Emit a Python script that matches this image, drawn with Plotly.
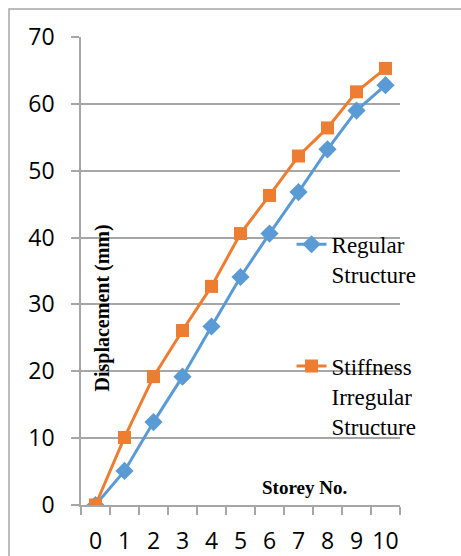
import plotly.graph_objects as go

# Storey numbers and lateral displacement (mm)
storeys = ["0", "1", "2", "3", "4", "5", "6", "7", "8", "9", "10"]
regular = [0, 5.1, 12.4, 19.2, 26.7, 34.1, 40.6, 46.8, 53.2, 59.0, 62.8]
stiffness_irregular = [0, 10.1, 19.2, 26.1, 32.7, 40.6, 46.3, 52.2, 56.4, 61.8, 65.3]

y_ticks = [0, 10, 20, 30, 40, 50, 60, 70]

BLUE = "#5B9BD5"
ORANGE = "#ED7D31"
GRID = "#A6A6A6"
TICK_FONT = dict(family="Open Sans", size=23, color="#000000")
SERIF = "Liberation Serif"

fig = go.Figure()

fig.add_trace(go.Scatter(
    x=storeys, y=regular, mode="lines+markers",
    name="Regular<br>Structure",
    line=dict(color=BLUE, width=3),
    marker=dict(symbol="diamond", size=14, color=BLUE),
    legend="legend",
))
fig.add_trace(go.Scatter(
    x=storeys, y=stiffness_irregular, mode="lines+markers",
    name="Stiffness<br>Irregular<br>Structure",
    line=dict(color=ORANGE, width=3),
    marker=dict(symbol="square", size=13, color=ORANGE),
    legend="legend2",
))

legend_common = dict(
    bgcolor="rgba(0,0,0,0)",
    font=dict(family=SERIF, size=23, color="#000000"),
    valign="top",
    xanchor="left",
    yanchor="top",
    itemwidth=30,
)

fig.update_layout(
    width=461,
    height=556,
    font=dict(family=SERIF, color="#000000"),
    margin=dict(l=81, r=61, t=37, b=51, autoexpand=False),
    paper_bgcolor="white",
    plot_bgcolor="white",
    showlegend=True,
    legend=dict(x=0.66, y=0.603, **legend_common),
    legend2=dict(x=0.66, y=0.343, **legend_common),
    xaxis=dict(
        type="category",
        range=[-0.5, 10.5],
        tickson="boundaries",
        ticks="outside",
        ticklen=8,
        tickwidth=1.5,
        tickcolor=GRID,
        tickangle=0,
        showline=True,
        linecolor=GRID,
        linewidth=1.5,
        showgrid=False,
        tickfont=TICK_FONT,
        ticklabelstandoff=15,
        automargin=False,
    ),
    yaxis=dict(
        range=[0, 70],
        tickvals=y_ticks,
        ticks="outside",
        ticklen=8,
        tickwidth=1.5,
        tickcolor=GRID,
        showline=True,
        linecolor=GRID,
        linewidth=1.5,
        showgrid=True,
        gridcolor=GRID,
        gridwidth=1.5,
        zeroline=False,
        tickfont=TICK_FONT,
        ticklabelstandoff=12,
        automargin=False,
    ),
    annotations=[
        dict(
            text="<b>Displacement (mm)</b>",
            xref="paper", yref="paper",
            x=0.066, y=0.42,
            xanchor="center", yanchor="middle",
            textangle=-90,
            showarrow=False,
            font=dict(family=SERIF, size=20, color="#000000"),
        ),
        dict(
            text="<b>Storey No.</b>",
            xref="paper", yref="paper",
            x=0.70, y=0.038,
            xanchor="center", yanchor="middle",
            showarrow=False,
            font=dict(family=SERIF, size=19, color="#000000"),
        ),
    ],
    shapes=[
        # outer chart frame
        dict(
            type="rect", xref="paper", yref="paper",
            x0=-0.2257, x1=2.0, y0=-1.0, y1=1.06,
            line=dict(color=GRID, width=1.5),
            layer="below",
        ),
    ],
)

fig.write_html("out.html")
